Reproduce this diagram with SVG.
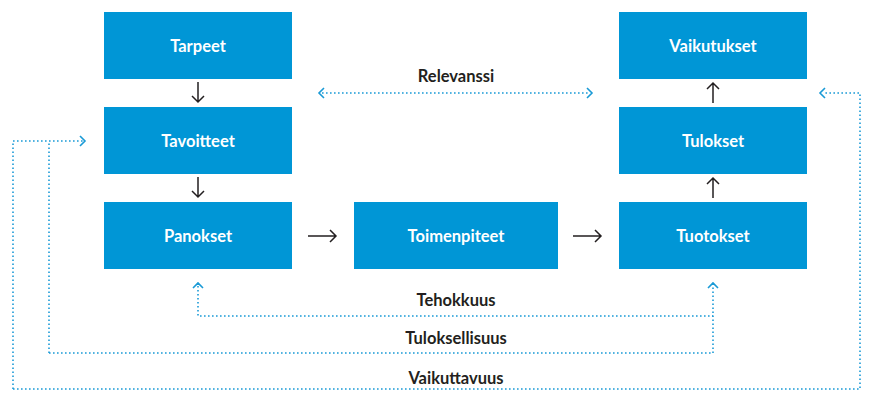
<svg xmlns="http://www.w3.org/2000/svg" width="869" height="393" viewBox="0 0 869 393">
<style>
.box{fill:#0096d6}
.bt{font-family:Lato,"Open Sans",sans-serif;font-weight:bold;font-size:16.5px;fill:#fff;text-anchor:middle;dominant-baseline:central}
.lt{font-family:Lato,"Open Sans",sans-serif;font-weight:bold;font-size:16.5px;fill:#231f20;text-anchor:middle}
.ar{stroke:#231f20;stroke-width:1.5;fill:none}
.dot{stroke:#1a9ad6;stroke-width:1.6;fill:none;stroke-dasharray:1.6 2.4}
.chev{stroke:#1a9ad6;stroke-width:1.6;fill:none}
</style>
<rect width="869" height="393" fill="#fff"/>
<g id="tarpeet"><rect class="box" x="104" y="12" width="188" height="67"/><text class="bt" x="198" y="45.5">Tarpeet</text></g>
<g id="tavoitteet"><rect class="box" x="104" y="107" width="188" height="67"/><text class="bt" x="198" y="140.5">Tavoitteet</text></g>
<g id="panokset"><rect class="box" x="104" y="202" width="188" height="67"/><text class="bt" x="198" y="235.5">Panokset</text></g>
<g id="toimenpiteet"><rect class="box" x="354" y="202" width="204" height="67"/><text class="bt" x="456" y="235.5">Toimenpiteet</text></g>
<g id="tuotokset"><rect class="box" x="619" y="202" width="188" height="67"/><text class="bt" x="713" y="235.5">Tuotokset</text></g>
<g id="tulokset"><rect class="box" x="619" y="107" width="188" height="67"/><text class="bt" x="713" y="140.5">Tulokset</text></g>
<g id="vaikutukset"><rect class="box" x="619" y="12" width="188" height="67"/><text class="bt" x="713" y="45.5">Vaikutukset</text></g>
<g id="connectors">
<path class="ar" d="M198 82V102M192 96L198 102L204 96"/>
<path class="ar" d="M198 177V197M192 191L198 197L204 191"/>
<path class="ar" d="M308 236H336M330 230L336 236L330 242"/>
<path class="ar" d="M573 236H601M595 230L601 236L595 242"/>
<path class="ar" d="M713 198V178M707 184L713 178L719 184"/>
<path class="ar" d="M713 103V83M707 89L713 83L719 89"/>
<path class="dot" d="M322 93H590"/>
<path class="chev" d="M324 88L319 93L324 98M587 88L592 93L587 98"/>
<path class="dot" d="M13 389V141H83"/>
<path class="dot" d="M49 353V141"/>
<path class="chev" d="M80 136L85 141L80 146"/>
<path class="dot" d="M198 286V316H713"/>
<path class="dot" d="M49 353H713V286"/>
<path class="chev" d="M193 288L198 283L203 288M708 288L713 283L718 288"/>
<path class="dot" d="M13 389H860V93H823"/>
<path class="chev" d="M825 88L820 93L825 98"/>
</g>
<text class="lt" x="456" y="82">Relevanssi</text>
<text class="lt" x="456" y="306">Tehokkuus</text>
<text class="lt" x="456" y="344">Tuloksellisuus</text>
<text class="lt" x="456" y="384">Vaikuttavuus</text>
</svg>
